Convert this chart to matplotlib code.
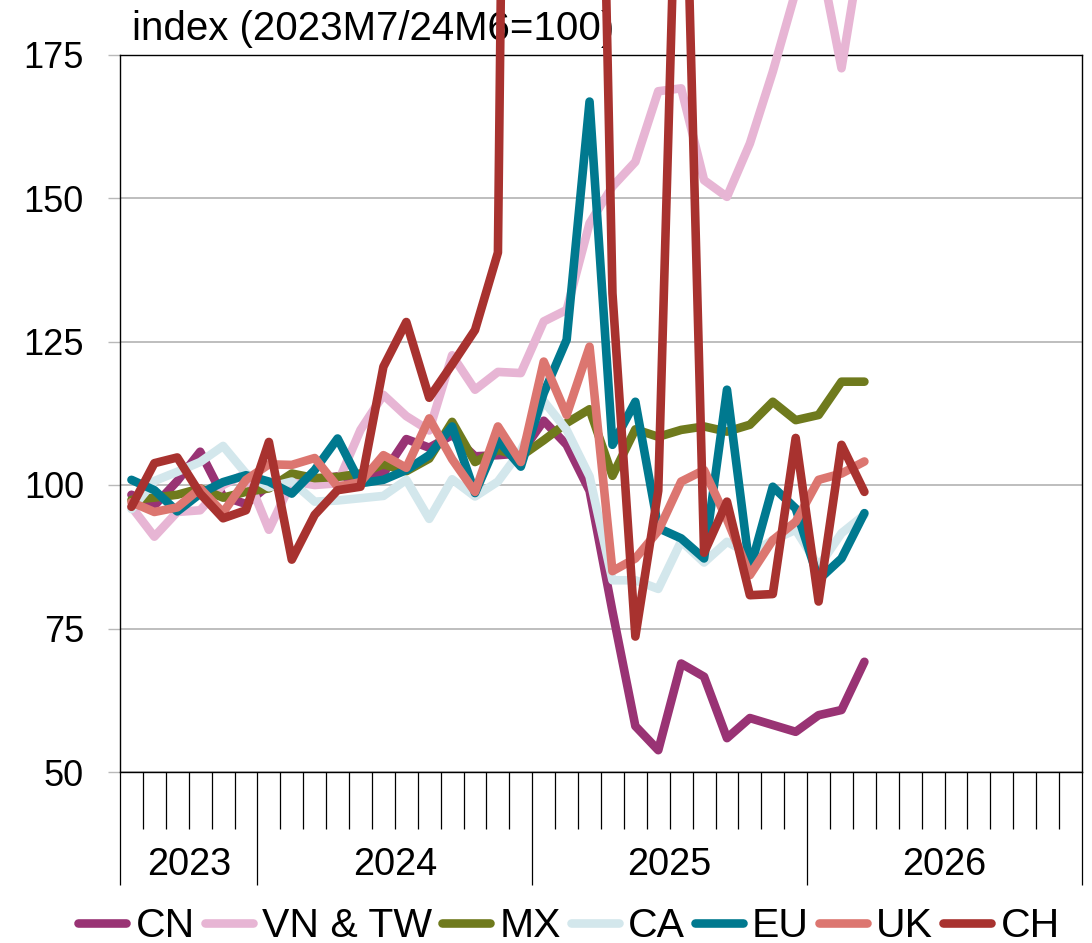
import numpy as np
import matplotlib
matplotlib.use("Agg")
import matplotlib.pyplot as plt
from matplotlib.transforms import blended_transform_factory
from matplotlib.lines import Line2D

# ---------------- data (monthly, 2023M7 .. 2026M3) ----------------
start_label = "2023M7"
n_months_axis = 42          # axis runs 2023M7 .. 2026M12
years = ["2023", "2024", "2025", "2026"]
year_bounds = [0, 6, 18, 30, 42]   # month index where each year starts/ends

CN = [98.3, 96.4, 100.7, 105.8, 98.0, 96.7, 100.0, 100.5, 101.0, 101.5, 101.4,
      102.0, 108.0, 106.5, 108.7, 105.0, 105.2, 105.5, 111.2, 107.0, 99.0, 78.0,
      58.0, 53.8, 68.9, 66.6, 55.9, 59.4, 58.2, 57.0, 59.9, 60.8, 69.2]
VN_TW = [96.2, 91.0, 95.3, 95.6, 100.0, 102.0, 92.2, 100.6, 100.0, 100.3, 109.6,
         115.7, 112.0, 109.5, 122.6, 116.6, 119.7, 119.5, 128.5, 130.5, 145.6,
         152.0, 156.3, 168.6, 169.1, 153.1, 150.2, 159.5, 172.0, 186.0, 193.0,
         172.6, 197.0]
MX = [97.4, 97.8, 98.3, 99.4, 97.8, 98.8, 99.4, 102.0, 101.2, 101.4, 102.0, 103.6,
      102.4, 104.6, 111.0, 104.0, 106.1, 105.0, 107.8, 110.8, 113.2, 101.6, 109.7,
      108.4, 109.6, 110.2, 109.3, 110.5, 114.5, 111.3, 112.2, 118.0, 118.0]
CA = [95.8, 100.7, 102.3, 104.0, 106.8, 102.0, 99.6, 100.6, 97.1, 97.3, 97.7, 98.1,
      100.9, 94.1, 101.0, 98.0, 100.6, 106.0, 114.6, 109.6, 101.5, 83.4, 83.4,
      81.9, 90.2, 86.5, 90.1, 88.0, 90.4, 92.2, 85.8, 91.6, 94.8]
EU = [100.9, 99.1, 95.4, 98.5, 100.5, 101.7, 100.6, 98.5, 102.6, 108.1, 100.3,
      100.9, 102.6, 105.2, 110.2, 98.6, 107.8, 103.2, 116.0, 125.3, 166.8, 107.0,
      114.5, 92.5, 90.7, 87.2, 116.6, 85.2, 99.7, 95.9, 83.5, 87.2, 95.1]
UK = [97.0, 95.3, 96.1, 99.4, 95.2, 100.9, 103.6, 103.5, 104.7, 99.7, 100.5, 105.2,
      103.0, 111.6, 104.5, 98.8, 110.2, 104.0, 121.5, 112.2, 124.1, 85.0, 87.2,
      92.0, 100.6, 102.6, 94.0, 84.3, 90.4, 93.6, 100.9, 102.0, 104.1]
CH = [96.2, 103.8, 104.8, 98.5, 94.2, 95.6, 107.5, 87.0, 94.8, 99.1, 99.7, 120.6,
      128.4, 115.2, 121.0, 127.0, 140.5, 500.0, 900.0, 700.0, 325.0, 133.4, 73.6,
      99.0, 240.0, 88.2, 97.1, 80.8, 81.0, 108.2, 79.7, 107.0, 98.8]

names = ["CN", "VN & TW", "MX", "CA", "EU", "UK", "CH"]
series = [CN, VN_TW, MX, CA, EU, UK, CH]
colors = ["#993374", "#E7B5D4", "#6F7A1D", "#D3E7EC", "#00798F", "#DC7670", "#A8322F"]

y_ticks = [50, 75, 100, 125, 150, 175]
ylabel = "index (2023M7/24M6=100)"

# ---------------- figure ----------------
plt.rcParams["font.family"] = ["Liberation Sans", "DejaVu Sans"]
W, H = 1092, 943
fig = plt.figure(figsize=(W / 100, H / 100), dpi=100)
ax = fig.add_axes([120 / W, 171 / H, 962 / W, 717.5 / H])
ax.set_xlim(0, n_months_axis)
ax.set_ylim(50, 175)

x = np.arange(len(CN)) + 0.5
LW = 6.2
for name, vals, col in zip(names, series, colors):
    ax.plot(x, vals, color=col, lw=LW, solid_capstyle="round",
            solid_joinstyle="round", clip_on=False, zorder=3, label=name)

# grid / spines
ax.set_yticks(y_ticks)
ax.grid(axis="y", color="#b9b9b9", lw=1.3, zorder=1)
ax.set_axisbelow(True)
for s in ax.spines.values():
    s.set_color("black")
    s.set_linewidth(1.0)
    s.set_zorder(2)

ax.tick_params(axis="y", direction="out", length=9, width=1.0, color="#b9b9b9",
               pad=17, labelsize=26)
yt = ax.yaxis.get_major_ticks()
yt[0].tick1line.set_color("black")
yt[-1].tick1line.set_color("black")

ax.set_xticks(year_bounds)
ax.set_xticks(range(n_months_axis + 1), minor=True)
ax.tick_params(axis="x", which="major", direction="out", length=81, width=0.9,
               color="black", labelbottom=False)
ax.tick_params(axis="x", which="minor", direction="out", length=41, width=0.9,
               color="black", labelbottom=False)

trans = blended_transform_factory(ax.transData, ax.transAxes)
for i, yr in enumerate(years):
    xc = (year_bounds[i] + year_bounds[i + 1]) / 2
    ax.text(xc, -0.1296, yr, transform=trans, ha="center", va="center",
            fontsize=27.3, clip_on=False)

fig.text(132 / W, 1 - 29 / H, ylabel, ha="left", va="center", fontsize=29,
         zorder=-1)

handles = [Line2D([0], [0], color=c, lw=LW, solid_capstyle="round") for c in colors]
fig.legend(handles, names, loc="center", bbox_to_anchor=(0.521, 1 - 926 / H),
           ncol=7, frameon=False, fontsize=29.5, handlelength=1.18,
           handletextpad=0.22, columnspacing=0.24, borderpad=0, borderaxespad=0)

fig.savefig("out.png", dpi=100)
